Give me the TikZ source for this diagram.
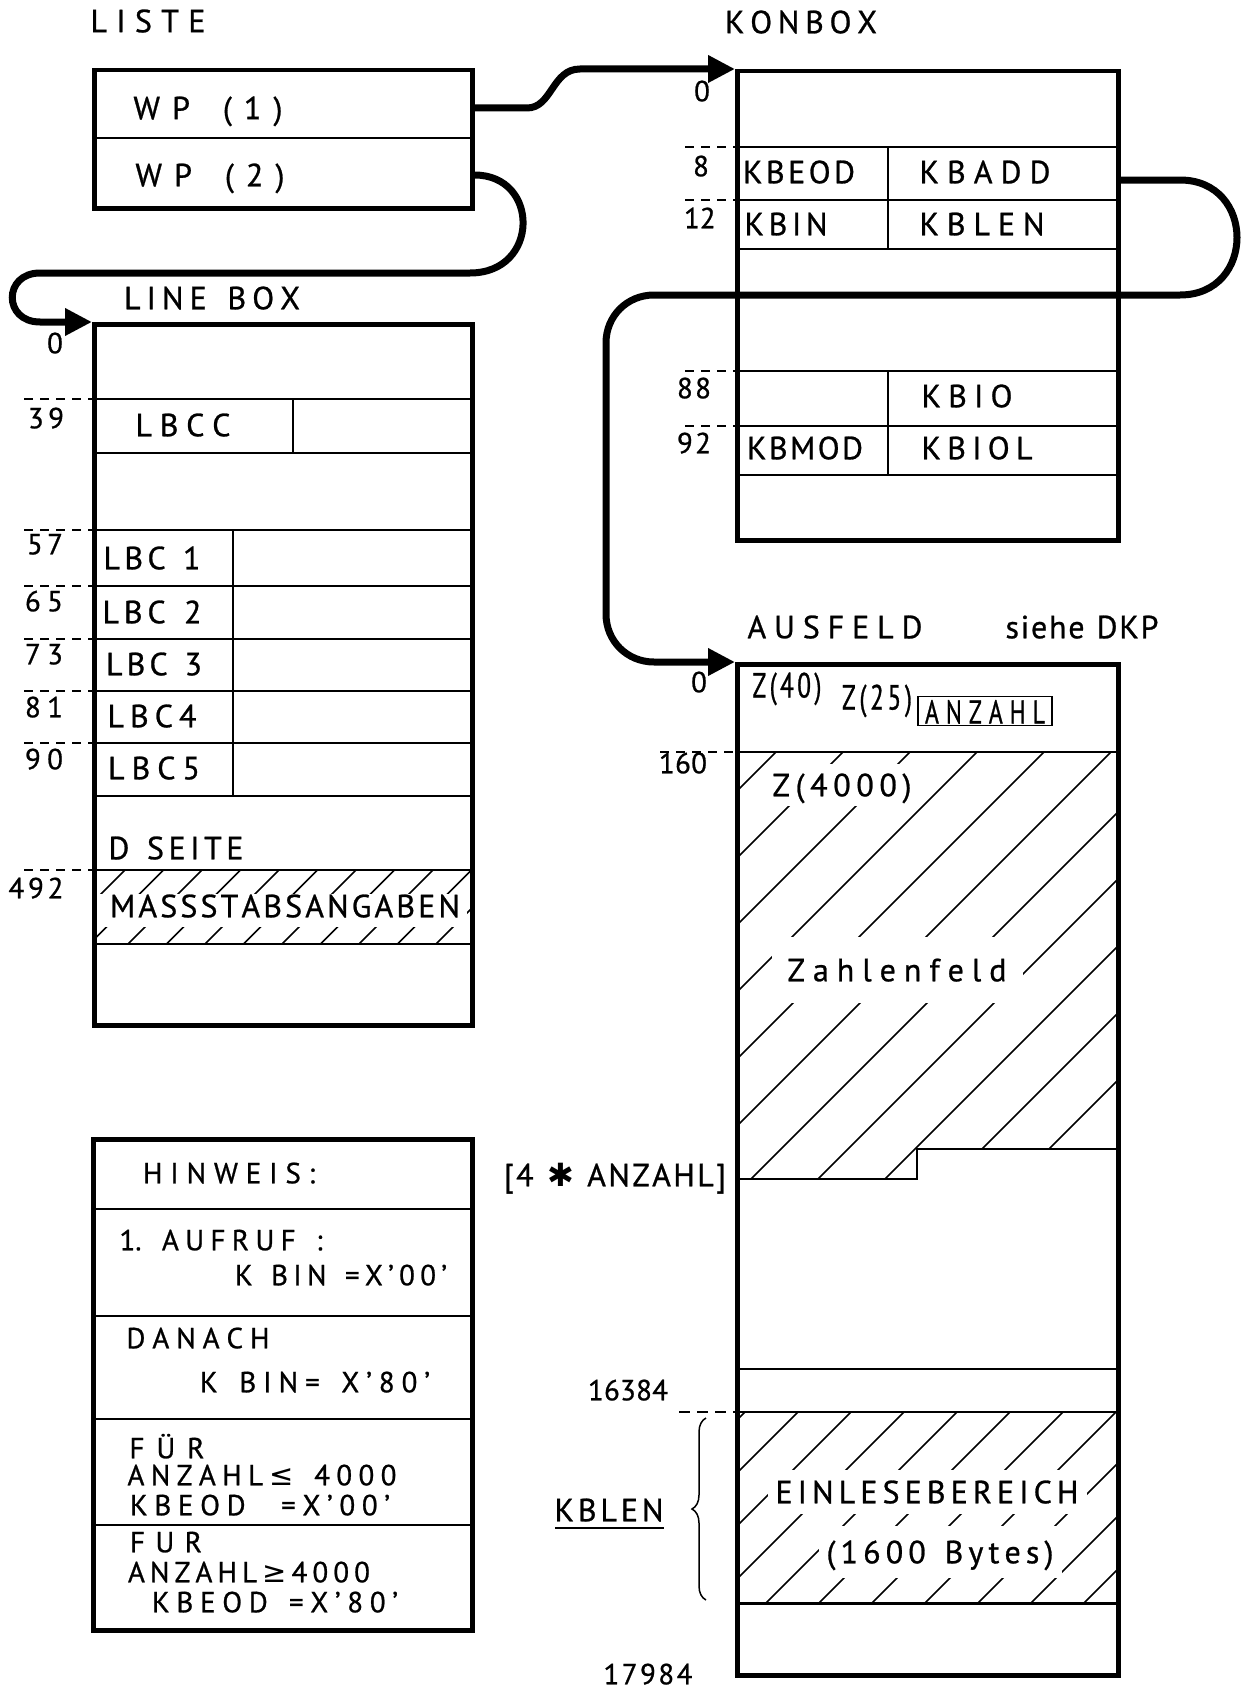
\documentclass[tikz,border=0pt]{standalone}
\usepackage{fontspec}
\setmainfont{PT Sans}[FakeBold=0.8]
\newfontfamily\symf{DejaVu Sans}
\newfontfamily\condf{PT Sans}[FakeStretch=0.72, FakeBold=0.8]
\usetikzlibrary{arrows.meta,calc,decorations.pathreplacing}
\newcommand\fntA{\fontsize{32}{38}\selectfont}
\newcommand\fntB{\fontsize{29}{34}\selectfont}
\ExplSyntaxOn
\NewDocumentCommand\spreadtxt{mm}{\makebox[#1][s]{\tl_map_inline:nn{#2}{{##1}\hfil}\unskip}}
\ExplSyntaxOff
\begin{document}
\begin{tikzpicture}[x=1pt,y=-1pt,
  outerbox/.style={draw, line width=4.5pt, inner sep=0pt, anchor=north west},
  thinline/.style={line width=2pt},
  conn/.style={line width=7pt, -{Triangle[length=27pt,width=26pt]}},
  tA/.style={inner sep=0pt, font=\fntA, text height=22.5pt, text depth=0pt},
  tB/.style={inner sep=0pt, font=\fntB, text height=20.5pt, text depth=0pt},
  tC/.style={inner sep=0pt, font=\fontsize{35}{40}\selectfont\condf, text height=25pt, text depth=0pt},
  ticks/.style={line width=1.6pt, dash pattern=on 9pt off 7pt},
  hatch/.style={line width=1.6pt},
  wbg/.style={fill=white}]
\fill[white] (0,0) rectangle (1240,1691);
\useasboundingbox (0,0) rectangle (1240,1691);

% ---------- hatching ----------
\begin{scope}
  \clip (735,752) -- (1116,752) -- (1116,1149) -- (917,1149) -- (917,1179) -- (735,1179) -- cycle;
  \foreach \k in {-8,...,7} \draw[hatch] ({1930+67*\k-1250},1250) -- ({1930+67*\k-700},700);
\end{scope}
\begin{scope}
  \clip (735,1412) rectangle (1116,1603);
  \foreach \k in {-6,...,8} \draw[hatch] ({2369+53*\k-1650},1650) -- ({2369+53*\k-1380},1380);
\end{scope}
\begin{scope}
  \clip (92,870) rectangle (470,944);
  \foreach \k in {-4,...,10} \draw[hatch] ({1072+38.5*\k-960},960) -- ({1072+38.5*\k-860},860);
\end{scope}
\fill[white] (95,894) rectangle (467,927);

% ---------- titles ----------
\node[tA] (tliste) at (148,21) {\spreadtxt{115pt}{LISTE}};
\node[tA] (tkonbox) at (801,22) {\spreadtxt{152pt}{KONBOX}};
\node[tA] (tlinebox) at (212,298) {\spreadtxt{176pt}{LINE~BOX}};
\node[tA] (tausfeld) at (835,627) {\spreadtxt{175pt}{AUSFELD}};
\node[tA] (tsiehe) at (1082,627) {\spreadtxt{153pt}{siehe~DKP}};

% ---------- LISTE ----------
\node[outerbox, minimum width=378pt, minimum height=138pt] (liste) at (92,68) {};
\draw[thinline] (92,138) -- (470,138);
\node[tA] (wp1) at (208,108) {\spreadtxt{149pt}{WP~(1)}};
\node[tA] (wp2) at (210,175) {\spreadtxt{149pt}{WP~(2)}};

% ---------- KONBOX ----------
\node[outerbox, minimum width=381pt, minimum height=469pt] (konbox) at (735,69) {};
\foreach \yy in {147,200,249,371,426,475} \draw[thinline] (735,\yy) -- (1116,\yy);
\draw[thinline] (888,147) -- (888,249);
\draw[thinline] (888,371) -- (888,475);
\foreach \yy in {147,200,371,426} \draw[ticks] (685,\yy) -- (735,\yy);
\node[tA] (kbeod) at (799,172) {\spreadtxt{112pt}{KBEOD}};
\node[tA] (kbadd) at (985,172) {\spreadtxt{131pt}{KBADD}};
\node[tA] (kbin) at (786,224) {\spreadtxt{83pt}{KBIN}};
\node[tA] (kblenk) at (982,224) {\spreadtxt{125pt}{KBLEN}};
\node[tA] (kbio) at (967,396) {\spreadtxt{91pt}{KBIO}};
\node[tA] (kbmod) at (805,448) {\spreadtxt{116pt}{KBMOD}};
\node[tA] (kbiol) at (977,448) {\spreadtxt{111pt}{KBIOL}};
\node[tB] (k0) at (702,91) {0};
\node[tB] (k8) at (701,166) {8};
\node[tB] (k12) at (699,218) {\spreadtxt{30pt}{12}};
\node[tB] (k88) at (694,388) {\spreadtxt{34pt}{88}};
\node[tB] (k92) at (694,443) {\spreadtxt{34pt}{92}};

% ---------- LINE BOX ----------
\node[outerbox, minimum width=378pt, minimum height=701pt] (linebox) at (92,322) {};
\foreach \yy in {399,453,530,586,639,691,743,796,870,944} \draw[thinline] (92,\yy) -- (470,\yy);
\draw[thinline] (293,399) -- (293,453);
\draw[thinline] (233,530) -- (233,796);
\foreach \yy in {399,530,586,639,691,743,870} \draw[ticks] (24,\yy) -- (92,\yy);
\node[tB] (l0) at (55,343) {0};
\node[tB] (l39) at (46,418) {\spreadtxt{36pt}{39}};
\node[tB] (l57) at (45,544) {\spreadtxt{36pt}{57}};
\node[tB] (l65) at (44,601) {\spreadtxt{38pt}{65}};
\node[tB] (l73) at (44,654) {\spreadtxt{38pt}{73}};
\node[tB] (l81) at (44,707) {\spreadtxt{38pt}{81}};
\node[tB] (l90) at (44,759) {\spreadtxt{38pt}{90}};
\node[tB] (l492) at (36,888) {\spreadtxt{55pt}{492}};
\node[tA] (lbcc) at (183,425) {\spreadtxt{95pt}{LBCC}};
\node[tA] (lbc1) at (152,558) {\spreadtxt{97pt}{LBC~1}};
\node[tA] (lbc2) at (152,612) {\spreadtxt{99pt}{LBC~2}};
\node[tA] (lbc3) at (154,664) {\spreadtxt{96pt}{LBC~3}};
\node[tA] (lbc4) at (152,716) {\spreadtxt{89pt}{LBC4}};
\node[tA] (lbc5) at (154,768) {\spreadtxt{92pt}{LBC5}};
\node[tA] (dseite) at (176,848) {\spreadtxt{135pt}{D~SEITE}};
\node[tA] (massstab) at (285,906) {\spreadtxt{350pt}{MASSSTABSANGABEN}};

% ---------- AUSFELD ----------
\node[outerbox, minimum width=381pt, minimum height=1011pt] (ausfeld) at (735,662) {};
\draw[thinline] (735,752) -- (1116,752);
\draw[thinline] (735,1179) -- (917,1179) -- (917,1149) -- (1116,1149);
\draw[thinline] (735,1369) -- (1116,1369);
\draw[line width=2.5pt] (735,1412) -- (1116,1412);
\draw[line width=3pt] (735,1603) -- (1116,1603);
\draw[ticks] (660,752) -- (735,752);
\draw[line width=2pt, dash pattern=on 11pt off 7pt] (679,1412) -- (735,1412);
\node[tB] (a0) at (699,682) {0};
\node[tB] (a160) at (683,763) {\spreadtxt{48pt}{160}};
\node[tC] (z40) at (787,685) {\spreadtxt{69pt}{Z(40)}};
\node[tC] (z25) at (877,697) {\spreadtxt{70pt}{Z(25)}};
\node[draw, line width=1.8pt, minimum width=134pt, minimum height=29pt, inner sep=0pt] (anzbox) at (985,711) {};
\node[inner sep=0pt, font=\fontsize{33}{38}\selectfont\condf, text height=23pt, text depth=0pt] (anz) at (985,712) {\spreadtxt{120pt}{ANZAHL}};
\node[tA, wbg, inner xsep=8pt, inner ysep=10pt] (z4000) at (842,785) {\spreadtxt{139pt}{Z(4000)}};
\node[tA, wbg, inner xsep=16pt, inner ysep=22pt] (zahlen) at (897,970) {\spreadtxt{219pt}{Zahlenfeld}};
\node[tA] (anzahl4) at (615,1175) {\spreadtxt{222pt}{[4~{\symf ✱}~ANZAHL]}};
\node[tB] (n16384) at (628,1390) {\spreadtxt{80pt}{16384}};
\node[tA, wbg, inner xsep=8pt, inner ysep=11pt] (einlese) at (927,1492) {\spreadtxt{303pt}{EINLESEBEREICH}};
\node[tA, wbg, inner xsep=8pt, inner ysep=15pt] (bytes) at (940,1552) {\spreadtxt{227pt}{(1600~Bytes)}};
\node[tA] (kblen) at (609,1510) {\spreadtxt{109pt}{KBLEN}};
\draw[line width=2pt] (555,1528) -- (664,1528);
\draw[line width=1.5pt, decorate, decoration={brace, amplitude=14pt}] (706,1600) -- (706,1418);
\node[tB] (n17984) at (648,1674) {\spreadtxt{89pt}{17984}};

% ---------- HINWEIS ----------
\node[outerbox, minimum width=379pt, minimum height=491pt] (hinweis) at (91,1137) {};
\foreach \yy in {1209,1316,1419,1525} \draw[thinline] (91,\yy) -- (470,\yy);
\node[tB] (hw) at (229,1173) {\spreadtxt{172pt}{HINWEIS:}};
\node[tB] (auf1) at (221,1240) {\spreadtxt{203pt}{{1.}~AUFRUF~:}};
\node[tB] (auf2) at (341,1275) {\spreadtxt{212pt}{K~BIN~=X'00'}};
\node[tB] (dan1) at (198,1338) {\spreadtxt{143pt}{DANACH}};
\node[tB] (dan2) at (315,1382) {\spreadtxt{230pt}{K~BIN=~X'80'}};
\node[tB] (fur1) at (167,1448) {\spreadtxt{75pt}{FÜR}};
\node[tB] (fur2) at (262,1475) {\spreadtxt{269pt}{ANZAHL{\symf ≤}~4000}};
\node[tB] (fur3) at (260,1505) {\spreadtxt{260pt}{KBEOD~~=X'00'}};
\node[tB] (fur4) at (166,1542) {\spreadtxt{72pt}{FUR}};
\node[tB] (fur5) at (249,1572) {\spreadtxt{242pt}{ANZAHL{\symf ≥}4000}};
\node[tB] (fur6) at (275,1602) {\spreadtxt{246pt}{KBEOD~=X'80'}};

% ---------- connectors ----------
\draw[conn] (liste.east |- wp1) -- (527,108) .. controls (552,108) and (552,69) .. (580,69) -- (konbox.north west);
\draw[conn] (liste.east |- wp2) .. controls (540,175) and (540,273) .. (470,273) -- (40,273)
  .. controls (3,273) and (3,322) .. (40,322) -- (linebox.north west);
\draw[conn] ($(konbox.east |- kbadd)+(0,8)$) -- (1180,180) .. controls (1256,180) and (1256,295) .. (1180,295)
  -- (654,295) .. controls (627,295) and (606,316) .. (606,343) -- (606,614)
  .. controls (606,641) and (627,662) .. (654,662) -- (ausfeld.north west);
\end{tikzpicture}
\end{document}
